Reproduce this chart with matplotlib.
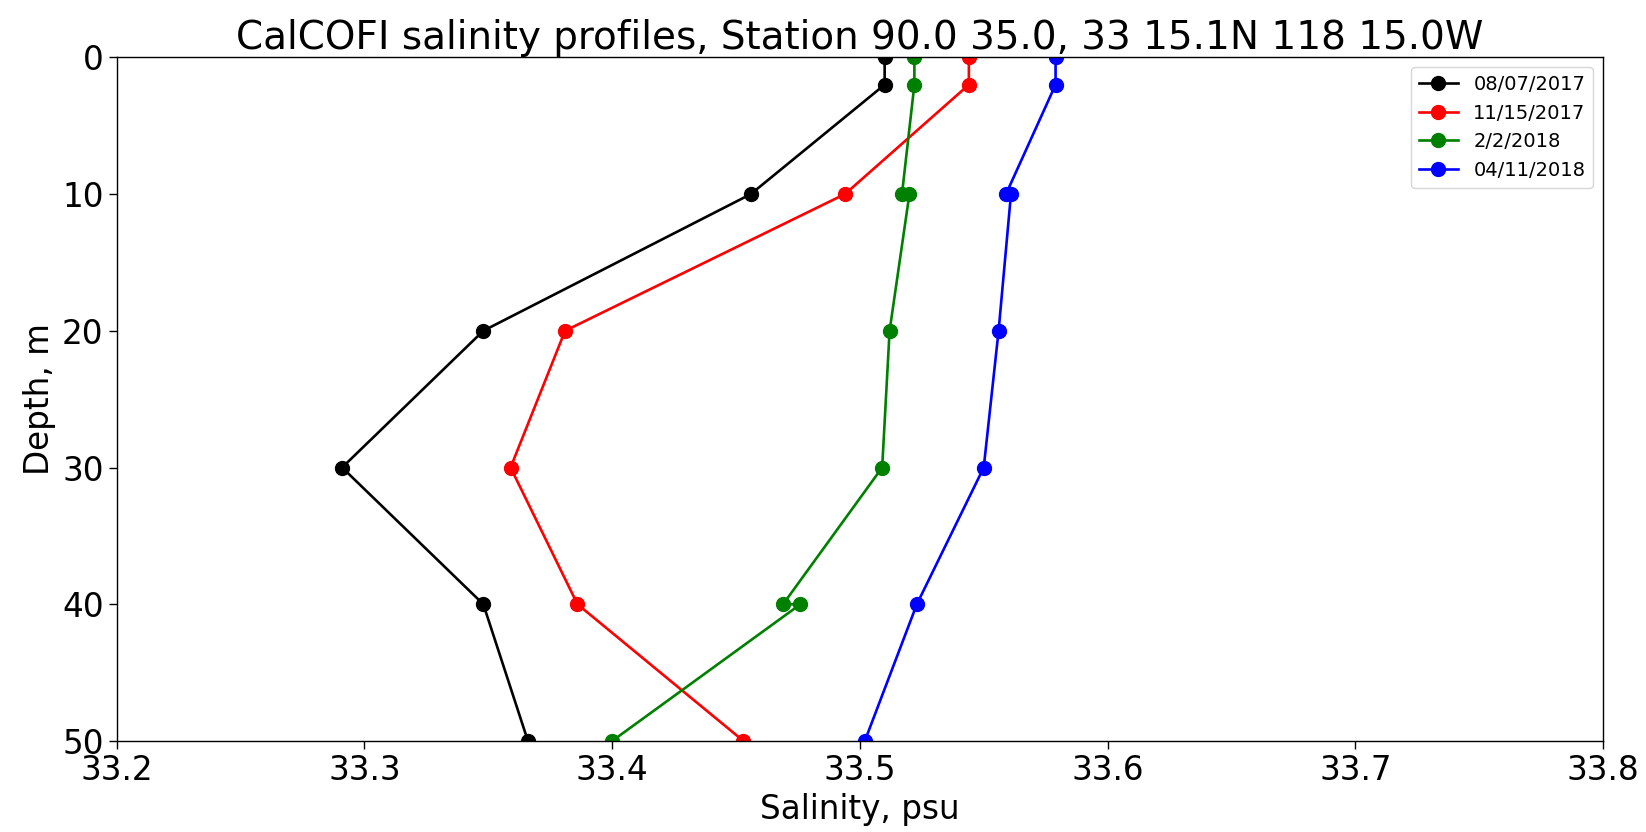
import matplotlib
matplotlib.use('Agg')
import matplotlib.pyplot as plt

# CalCOFI bottle salinity, station 90.0 35.0
depth_0807 = [0, 2, 10, 20, 30, 40, 50]
sal_0807 = [33.510, 33.510, 33.456, 33.348, 33.291, 33.348, 33.366]

depth_1115 = [0, 2, 10, 20, 30, 40, 50]
sal_1115 = [33.544, 33.544, 33.494, 33.381, 33.359, 33.386, 33.453]

depth_0202 = [0, 2, 10, 10, 20, 30, 40, 40, 50]
sal_0202 = [33.522, 33.522, 33.517, 33.520, 33.512, 33.509, 33.469, 33.476, 33.400]

depth_0411 = [0, 2, 10, 10, 20, 30, 40, 50]
sal_0411 = [33.579, 33.579, 33.559, 33.561, 33.556, 33.550, 33.523, 33.502]

profiles = [
    (sal_0807, depth_0807, '08/07/2017', 'black'),
    (sal_1115, depth_1115, '11/15/2017', 'red'),
    (sal_0202, depth_0202, '2/2/2018', 'green'),
    (sal_0411, depth_0411, '04/11/2018', 'blue'),
]

fig = plt.figure(figsize=(16.46, 8.32), dpi=100)
ax = fig.add_axes([0.0709, 0.1094, 0.9030, 0.8217])

for sal, dep, lab, col in profiles:
    ax.plot(sal, dep, '-o', color=col, label=lab, lw=1.9, markersize=10)

ax.set_xlim(33.2, 33.8)
ax.set_ylim(50, 0)
ax.set_xticks([33.2, 33.3, 33.4, 33.5, 33.6, 33.7, 33.8])
ax.set_yticks([0, 10, 20, 30, 40, 50])
ax.tick_params(labelsize=23.5, length=6, width=1.0)
for sp in ax.spines.values():
    sp.set_linewidth(1.0)

ax.set_xlabel('Salinity, psu', fontsize=23.5)
ax.set_ylabel('Depth, m', fontsize=23.5)
ax.set_title('CalCOFI salinity profiles, Station 90.0 35.0, 33 15.1N 118 15.0W', fontsize=28)
ax.legend(loc='upper right', fontsize=14)

fig.savefig('out.png', dpi=100)
